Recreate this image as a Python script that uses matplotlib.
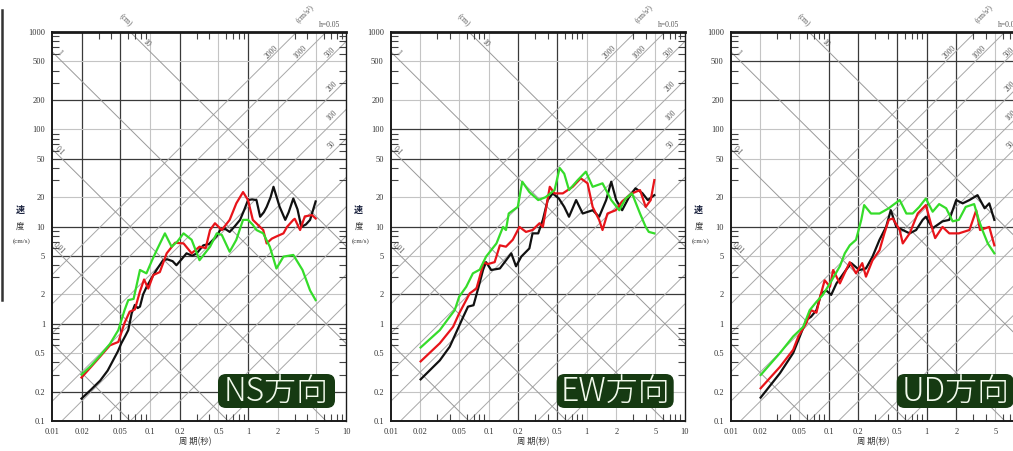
import numpy as np
import matplotlib
matplotlib.use("Agg")
import matplotlib.pyplot as plt
from matplotlib.patches import FancyBboxPatch
from matplotlib.lines import Line2D
from matplotlib.transforms import IdentityTransform

plt.rcParams['font.family'] = ['Liberation Serif', 'Noto Sans CJK JP']

W, H = 1013, 451

# --- 速度応答スペクトル (h=0.05), period T [s] vs velocity [cm/s] ---
ns_black_t = [0.02, 0.025, 0.031, 0.037, 0.042, 0.047, 0.051, 0.056, 0.060, 0.065, 0.070, 0.075, 0.079, 0.085,
              0.0925, 0.104, 0.117, 0.136, 0.15, 0.17, 0.186, 0.21, 0.236, 0.27, 0.30, 0.35, 0.40, 0.44, 0.48,
              0.52, 0.58, 0.65, 0.73, 0.83, 0.92, 1.0, 1.1, 1.22, 1.33, 1.45, 1.55, 1.7, 1.82, 2.1, 2.4, 2.6,
              2.9, 3.2, 3.5, 3.9, 4.3, 4.9]
ns_black_v = [0.17, 0.21, 0.26, 0.33, 0.42, 0.52, 0.63, 0.75, 0.86, 1.28, 1.56, 1.45, 1.5, 2.0,
              2.4, 2.96, 3.6, 4.5, 4.6, 4.4, 4.0, 4.6, 5.3, 5.0, 5.3, 6.4, 6.6, 7.3, 8.0,
              9.2, 9.5, 8.8, 10, 11.7, 15, 18.7, 19, 18.7, 12.6, 14, 15.9, 20, 25.6, 16, 11.7, 14,
              19.4, 15, 9.9, 10.5, 11.7, 18.1]
ns_red_t = [0.02, 0.025, 0.031, 0.039, 0.0475, 0.055, 0.062, 0.07, 0.079, 0.087, 0.096, 0.108, 0.126, 0.148,
            0.18, 0.22, 0.266, 0.32, 0.37, 0.41, 0.46, 0.54, 0.65, 0.76, 0.89, 1.0, 1.12, 1.25, 1.43, 1.55,
            1.75, 1.95, 2.3, 2.5, 2.9, 3.0, 3.4, 3.8, 4.5, 4.9]
ns_red_v = [0.28, 0.36, 0.46, 0.6, 0.65, 1.02, 1.33, 1.4, 2.15, 2.85, 2.3, 3.17, 3.4, 5.3,
            6.8, 6.7, 5.3, 6.2, 6.0, 9.2, 10.8, 9.2, 11.7, 17.3, 22.6, 18.7, 11.7, 10.5, 9.2, 6.7,
            7.5, 7.9, 8.5, 9.9, 11.7, 12, 9.2, 12.7, 13.1, 12.1]
ns_green_t = [0.02, 0.025, 0.031, 0.039, 0.0475, 0.055, 0.06, 0.068, 0.079, 0.092, 0.105, 0.117, 0.142, 0.166,
              0.19, 0.22, 0.266, 0.32, 0.41, 0.48, 0.54, 0.65, 0.76, 0.89, 1.0, 1.12, 1.22, 1.43, 1.67,
              1.95, 2.3, 2.9, 3.6, 4.3, 4.9]
ns_green_v = [0.30, 0.37, 0.47, 0.62, 0.86, 1.38, 1.75, 1.8, 3.57, 3.3, 4.5, 5.7, 8.5, 6.2,
              7.0, 8.5, 7.3, 4.5, 6.2, 8.5, 8.2, 5.5, 7.3, 11.7, 11.7, 10.4, 9.2, 8.5, 6.2,
              3.7, 4.9, 5.1, 3.57, 2.2, 1.75]

ew_black_t = [0.0202, 0.0317, 0.04, 0.047, 0.055, 0.0615, 0.07, 0.078, 0.0875, 0.094, 0.106, 0.13, 0.17, 0.19,
              0.215, 0.26, 0.28, 0.32, 0.357, 0.40, 0.45, 0.52, 0.59, 0.66, 0.78, 0.91, 1.15, 1.34, 1.58,
              1.78, 2.0, 2.3, 2.7, 3.15, 3.7, 4.2, 4.9]
ew_black_v = [0.268, 0.42, 0.58, 0.83, 1.18, 1.5, 1.55, 2.3, 3.57, 4.3, 3.57, 3.7, 5.3, 3.9,
              4.9, 5.95, 8.5, 8.5, 11.7, 18.7, 21.9, 19.4, 15.9, 12.6, 18.7, 13.6, 14.7, 12.6, 18.7,
              28.9, 18.7, 14.7, 20, 24.7, 22, 18.7, 21]
ew_red_t = [0.0202, 0.0317, 0.0433, 0.05, 0.064, 0.075, 0.089, 0.097, 0.115, 0.13, 0.15, 0.176, 0.206, 0.24,
            0.28, 0.33, 0.357, 0.42, 0.47, 0.57, 0.72, 0.87, 1.02, 1.15, 1.34, 1.45, 1.63, 1.98, 2.3,
            2.9, 3.5, 4.0, 4.5, 4.9]
ew_red_v = [0.41, 0.63, 0.93, 1.28, 2.05, 2.3, 4.3, 4.1, 4.3, 6.4, 6.2, 7.3, 9.9, 8.8,
            9.2, 10.8, 9.9, 25.6, 21.9, 21.9, 25.6, 31.3, 27.8, 15.9, 11.7, 9.2, 13.6, 14.7, 18.1,
            21.9, 23.7, 15.9, 18.7, 30]
ew_green_t = [0.0202, 0.0317, 0.04, 0.045, 0.05, 0.059, 0.069, 0.081, 0.094, 0.12, 0.14, 0.15, 0.16, 0.198,
              0.22, 0.26, 0.32, 0.38, 0.47, 0.53, 0.59, 0.66, 0.81, 0.98, 1.15, 1.45, 1.78, 2.15, 2.5,
              2.9, 3.5, 4.0, 4.3, 4.9]
ew_green_v = [0.57, 0.86, 1.18, 1.38, 1.9, 2.4, 3.3, 3.6, 4.9, 6.7, 9.9, 9.2, 13.6, 15.9,
              28.9, 22.6, 18.7, 20, 23.7, 40, 34.9, 23.7, 30, 36.6, 25.6, 27.8, 18.7, 14.7, 19.4,
              21.9, 13.6, 9.9, 8.8, 8.5]

ud_black_t = [0.0202, 0.0318, 0.0434, 0.0507, 0.059, 0.066, 0.075, 0.084, 0.0944, 0.106, 0.12, 0.15, 0.17, 0.205,
              0.24, 0.28, 0.33, 0.385, 0.43, 0.49, 0.57, 0.67, 0.78, 0.91, 0.98, 1.15, 1.45, 1.7, 2.0,
              2.33, 2.73, 3.3, 3.9, 4.35, 4.9]
ud_black_v = [0.174, 0.31, 0.50, 0.74, 1.09, 1.18, 1.38, 2.05, 2.2, 1.98, 2.6, 3.57, 4.2, 3.57,
              3.7, 4.9, 7.3, 9.9, 14.7, 9.9, 9.2, 8.5, 9.2, 11.7, 12.6, 9.6, 11.3, 11.7, 18.7,
              17.3, 18.7, 21, 15.4, 17.3, 11.7]
ud_red_t = [0.0202, 0.0318, 0.0434, 0.049, 0.059, 0.066, 0.075, 0.081, 0.091, 0.103, 0.111, 0.13, 0.164, 0.19,
            0.22, 0.24, 0.28, 0.33, 0.37, 0.41, 0.45, 0.53, 0.57, 0.67, 0.81, 0.98, 1.15, 1.22, 1.45,
            1.7, 2.13, 2.73, 3.2, 3.5, 4.35, 4.9]
ud_red_v = [0.217, 0.36, 0.54, 0.74, 1.01, 1.38, 1.3, 1.83, 2.8, 2.4, 3.57, 2.6, 4.3, 3.3,
            4.2, 3.05, 4.5, 5.7, 8.5, 11.7, 12.1, 9.2, 6.7, 8.5, 13.6, 16.6, 9.2, 7.6, 9.9,
            8.5, 8.5, 9.2, 14.7, 9.2, 9.9, 6.4]
ud_green_t = [0.0202, 0.0318, 0.0434, 0.055, 0.064, 0.075, 0.087, 0.103, 0.13, 0.146, 0.164, 0.19, 0.215, 0.23,
              0.27, 0.33, 0.41, 0.53, 0.62, 0.72, 0.84, 0.98, 1.15, 1.34, 1.58, 1.84, 2.13, 2.5, 3.05,
              3.4, 3.7, 4.2, 4.9]
ud_green_v = [0.297, 0.50, 0.74, 0.93, 1.38, 1.68, 1.98, 2.6, 3.9, 5.3, 6.4, 7.3, 11.7, 16.6,
              13.6, 13.6, 15.4, 18.7, 13.6, 13.6, 15.9, 19.4, 14.2, 17, 15.4, 11.3, 11.7, 15.9, 17,
              11.7, 9.2, 6.7, 5.3]

directions = ['NS方向', 'EW方向', 'UD方向']
series = [
    [(ns_black_t, ns_black_v), (ns_red_t, ns_red_v), (ns_green_t, ns_green_v)],
    [(ew_black_t, ew_black_v), (ew_red_t, ew_red_v), (ew_green_t, ew_green_v)],
    [(ud_black_t, ud_black_v), (ud_red_t, ud_red_v), (ud_green_t, ud_green_v)],
]
line_colors = ['#111111', '#e8141a', '#35dc2a']

x_ticks = [0.01, 0.02, 0.05, 0.1, 0.2, 0.5, 1, 2, 5, 10]
x_ticklabels = ['0.01', '0.02', '0.05', '0.1', '0.2', '0.5', '1', '2', '5', '10']
y_ticks = [0.1, 0.2, 0.5, 1, 2, 5, 10, 20, 50, 100, 200, 500, 1000]
y_ticklabels = ['0.1', '0.2', '0.5', '1', '2', '5', '10', '20', '50', '100', '200', '500', '1000']

accel_lines = [1, 2, 5, 10, 20, 50, 100, 200, 500, 1000, 2000]      # cm/s^2
accel_labels = [50, 100, 200, 500, 1000, 2000]
disp_lines = [0.001, 0.01, 0.1, 1, 10]                               # cm
disp_labels = [0.01, 0.1, 1, 10]

# darker grid lines differ a bit from panel to panel in the scan
dark_v = [[0.02, 0.05, 0.2, 1], [0.2, 0.5], [0.1, 0.2, 0.5, 1, 2]]
dark_h = [[0.2, 1, 5, 10, 50, 200], [2, 10, 50, 100], [10, 200, 500]]

panel_left = [52, 390.7, 730.7]
panel_w, top, bottom = 294, 32, 421

fig = plt.figure(figsize=(W / 100, H / 100), dpi=100)
fig.patch.set_facecolor('white')


def px(x, y):
    return x / W, 1 - y / H


T = np.logspace(-2, 1, 60)
for i, L in enumerate(panel_left):
    ax = fig.add_axes([L / W, (H - bottom) / H, panel_w / W, (bottom - top) / H])
    ax.set_xscale('log')
    ax.set_yscale('log')
    ax.set_xlim(0.01, 10)
    ax.set_ylim(0.1, 1000)

    for xv in x_ticks[1:-1]:
        dark = xv in dark_v[i]
        ax.axvline(xv, color='#3a3a3a' if dark else '#c4c4c4', lw=0.9 if dark else 0.8, zorder=1)
    for yv in y_ticks[1:-1]:
        dark = yv in dark_h[i]
        ax.axhline(yv, color='#3a3a3a' if dark else '#c4c4c4', lw=0.9 if dark else 0.8, zorder=1)

    for A in accel_lines:
        ax.plot(T, A * T / (2 * np.pi), color='#a8a8a8', lw=0.7, zorder=1)
    for D in disp_lines:
        ax.plot(T, 2 * np.pi * D / T, color='#999999', lw=0.7, zorder=1)

    # line labels
    lab_kw = dict(fontsize=5.5, color='#555555', ha='center', va='center', zorder=3)
    for A in accel_labels:
        if A >= 500:
            vl = 620
            tl = 2 * np.pi * vl / A / 1.13
        else:
            tl = 7.2
            vl = A * tl / (2 * np.pi) * 1.2
        ax.text(tl, vl, str(A), rotation=45, **lab_kw)
    for D in disp_labels:
        tl = 0.092 if D == 10 else 0.0118
        vl = 2 * np.pi * D / tl * 1.13
        ax.text(tl, vl, f'{D:g}', rotation=-45, **lab_kw)

    for (tt, vv), c in zip(series[i], line_colors):
        ax.plot(tt, vv, color=c, lw=1.6, zorder=4, solid_joinstyle='round')

    ax.set_xticks(x_ticks)
    ax.set_xticklabels(x_ticklabels)
    ax.set_yticks(y_ticks)
    ax.set_yticklabels(y_ticklabels)
    ax.xaxis.set_minor_formatter(plt.NullFormatter())
    ax.yaxis.set_minor_formatter(plt.NullFormatter())
    ax.tick_params(which='major', length=0, labelsize=6, colors='#333333', pad=5)
    ax.tick_params(which='minor', direction='in', length=5, width=0.8, top=True, right=True, colors='#444444')
    for s in ['left', 'bottom']:
        ax.spines[s].set_linewidth(1.4)
    ax.spines['top'].set_linewidth(2.0)
    ax.spines['right'].set_linewidth(1.0)
    for s in ax.spines.values():
        s.set_color('#1a1a1a')

    # titles of the tripartite axes
    small = dict(fontsize=5.5, color='#555555', ha='center', va='center')
    fig.text(*px(L + 73, 20), '(cm)', rotation=-45, **small)
    fig.text(*px(L + 253, 14), '(cm/s²)', rotation=45, **small)
    fig.text(*px(L + 278, 25), 'h=0.05', **small)

    # axis labels
    lab = dict(fontsize=6, color='#333333', ha='center', va='center', family=['Noto Sans CJK JP', 'DejaVu Sans'])
    fig.text(*px(L - 32, 210), '速', color='#1c2440', fontsize=6.5, fontweight='bold', ha='center', va='center',
             family=['Noto Sans CJK JP', 'DejaVu Sans'])
    fig.text(*px(L - 32, 226), '度', **lab)
    fig.text(*px(L - 30, 241), '(cm/s)', fontsize=5, color='#333333', ha='center', va='center')
    fig.text(*px(L + 143, 442), '周 期(秒)', **lab)

    # direction badge
    bx0, bx1, by0, by1 = L + 166, L + 283, 374, 408
    box = FancyBboxPatch((bx0, H - by1), bx1 - bx0, by1 - by0,
                         boxstyle='round,pad=0,rounding_size=8',
                         transform=IdentityTransform(), fc='#163a12', ec='none', zorder=10)
    fig.patches.append(box)
    fig.text(*px((bx0 + bx1) / 2, (by0 + by1) / 2 + 1), directions[i], fontsize=23, color='#f2faec',
             fontweight='light', ha='center', va='center',
             family=['Noto Sans CJK JP', 'DejaVu Sans'], zorder=11)

# border of the slide frame at the very left
fig.add_artist(Line2D([1.5 / W, 1.5 / W], [1 - 10 / H, 1 - 300 / H], color='#333333', lw=1.8))

fig.savefig('out.png', dpi=100)
